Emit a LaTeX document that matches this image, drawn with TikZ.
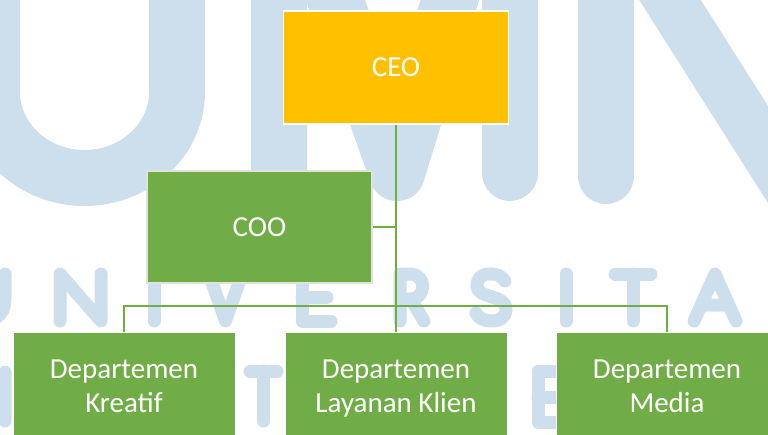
\documentclass[tikz,border=0pt]{standalone}
\usepackage{fontspec}
\setmainfont{Carlito}
\definecolor{wm}{RGB}{205,222,237}
\definecolor{ogreen}{RGB}{112,173,71}
\definecolor{ogold}{RGB}{255,192,0}
\definecolor{oborder}{RGB}{226,226,220}
\begin{document}
\begin{tikzpicture}[x=1pt,y=-1pt,
  wmbig/.style={draw=wm,line width=56pt,line cap=round,line join=round},
  wmsmall/.style={draw=wm,line width=13pt,line cap=round,line join=round},
  box/.style={rectangle,inner sep=0pt,text=white,font=\fontsize{29}{34}\selectfont,align=center},
  link/.style={draw=ogreen,line width=2pt}]
\useasboundingbox (0,0) rectangle (768,434);
\clip (0,0) rectangle (768,434);
\fill[white] (0,0) rectangle (768,434);
% watermark: UMN
\draw[wmbig] (-8,-40) -- (-8,92) .. controls (-8,139.5) and (33.4,178) .. (84.5,178) .. controls (135.6,178) and (177,139.5) .. (177,92) -- (177,-40);
\draw[wmbig] (279,-40) -- (279,173);
\draw[wmbig] (321,-40) -- (397,173) -- (462,-40);
\draw[wmbig] (510,-40) -- (510,173);
\draw[wmbig] (606,-40) -- (606,176);
\draw[wmbig,line width=52pt] (651,-30) -- (840,268);
% watermark: UNIVERSITAS
\draw[wmsmall] (5,274) -- (5,298) .. controls (5,318) and (-8,321) .. (-20,321);
\draw[wmsmall] (60,321) -- (60,274) -- (101,321) -- (101,274);
\draw[wmsmall] (154,274) -- (154,321);
\draw[wmsmall] (209,274) -- (225.5,321) -- (242,274);
\draw[wmsmall] (331,274) -- (302,274) -- (302,321) -- (331,321) (302,297.5) -- (327,297.5);
\draw[wmsmall] (400,321) -- (400,274) -- (410,274) .. controls (427,274) and (427,299) .. (410,299) -- (400,299) (411,299) -- (424,321);
\draw[wmsmall] (505,281) .. controls (499,273) and (492,274) .. (489,274) .. controls (480,274) and (477,280) .. (477,286) .. controls (477,299) and (506,294) .. (506,309) .. controls (506,318) and (499,321) .. (491,321) .. controls (484,321) and (478,318) .. (476,313);
\draw[wmsmall] (566,274) -- (566,321);
\draw[wmsmall] (615,274) -- (651,274) (633,274) -- (633,321);
\draw[wmsmall] (694,321) -- (715,274) -- (736,321) (703,305) -- (727,305);
% watermark: MULTIMEDIA
\draw[wmsmall] (5,421) -- (5,372) -- (-20,410);
\draw[wmsmall] (250,371) -- (277,371) (263.5,371) -- (263.5,421);
\draw[wmsmall] (562,371) -- (538,371) -- (538,422) -- (562,422) (538,397.5) -- (558,397.5);
% boxes
\node[box,fill=ogold,draw=white,line width=1.5pt,minimum width=225pt,minimum height=113pt] (ceo) at (396,67.5) {CEO};
\node[box,fill=ogreen,draw=oborder,line width=1.5pt,minimum width=225pt,minimum height=112pt] (coo) at (259.5,227) {COO};
\node[box,fill=ogreen,draw=white,line width=1pt,minimum width=222pt,minimum height=114pt] (kre) at (124,389) {Departemen\\Kreatif\rule[-6pt]{0pt}{0pt}};
\node[box,fill=ogreen,draw=white,line width=1pt,minimum width=222pt,minimum height=114pt] (lay) at (396,389) {Departemen\\Layanan Klien\rule[-6pt]{0pt}{0pt}};
\node[box,fill=ogreen,draw=white,line width=1pt,minimum width=222pt,minimum height=114pt] (med) at (667,389) {Departemen\\Media\rule[-6pt]{0pt}{0pt}};
% connectors
\draw[link] (ceo.south) -- (lay.north);
\draw[link] (coo.east) -- (coo.east -| ceo.south);
\draw[link] (kre.north) -- ++(0,-26) -| (med.north);
\end{tikzpicture}
\end{document}
